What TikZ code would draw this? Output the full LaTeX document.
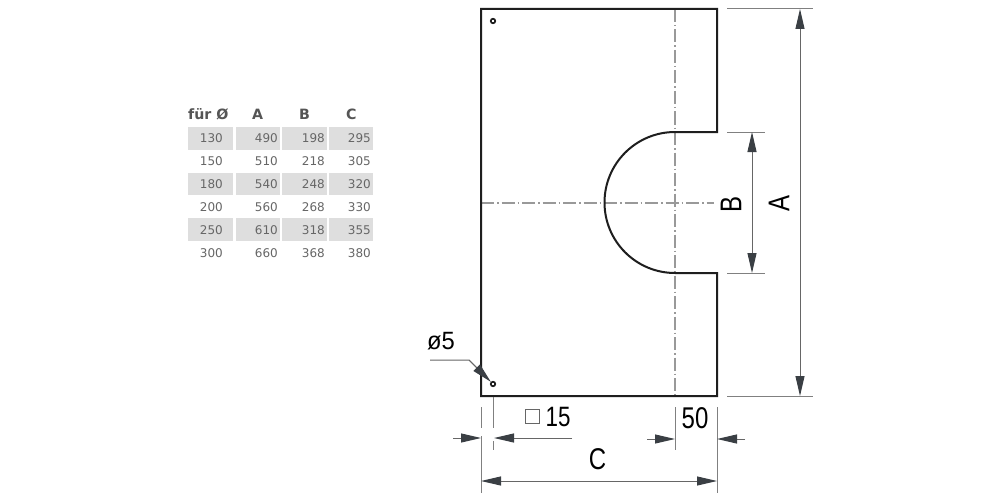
\documentclass[tikz,border=0pt]{standalone}
\usepackage{fontspec}
\setmainfont{Liberation Sans}
\newfontfamily\tablefont{DejaVu Sans}
\usetikzlibrary{arrows.meta}
\definecolor{celltone}{HTML}{DEDEDE}
\definecolor{celltext}{HTML}{666666}
\definecolor{headtext}{HTML}{555555}
\definecolor{tipcol}{HTML}{3A3F44}
\definecolor{dimcol}{HTML}{666666}
\definecolor{extcol}{HTML}{808080}
\definecolor{axiscol}{HTML}{999999}
\definecolor{plate}{HTML}{1E1E1E}
\tikzset{
  cell/.style={fill=celltone,draw=none},
  num/.style={font=\tablefont\fontsize{12}{12}\selectfont,text=celltext,inner sep=0pt,anchor=base east},
  head/.style={font=\tablefont\bfseries\fontsize{14.2}{15}\selectfont,text=headtext,inner sep=0pt,anchor=base west},
  outline/.style={draw=plate,line width=2pt,line join=miter},
  hole/.style={draw=plate,line width=1.7pt,fill=white,circle,minimum size=4.5pt,inner sep=0pt},
  axisline/.style={draw=axiscol,line width=1.1pt,dash pattern=on 13pt off 3pt on 1.5pt off 3pt},
  extline/.style={draw=extcol,line width=1pt},
  dimline/.style={draw=dimcol,line width=1pt},
  tip/.style={-{Triangle[length=20pt,width=9pt,color=tipcol]}},
  tips/.style={{Triangle[length=20pt,width=9pt,color=tipcol]}-{Triangle[length=20pt,width=9pt,color=tipcol]}},
  dimtext/.style={font=\fontsize{#1}{#1}\selectfont,text=black,inner sep=0pt,xscale=.8},
}
\begin{document}
\begin{tikzpicture}[x=1pt,y=-1pt]
\useasboundingbox (0,0) rectangle (1000,500);
\fill[white] (0,0) rectangle (1000,500);

% table
\foreach \ya/\yb in {127/150,173/195,218/241}{
  \foreach \xa/\xb in {188/233,236/280,282/327,329/373}{
    \path[cell] (\xa,\ya) rectangle (\xb,\yb);
  }
}
\node[head] (hd0) at (188,120) {für Ø};
\node[head] (hd1) at (252,120) {A};
\node[head] (hd2) at (299,120) {B};
\node[head] (hd3) at (346,120) {C};
\foreach \yy/\a/\b/\c/\d in {142.5/130/490/198/295,165.5/150/510/218/305,188.5/180/540/248/320,211.5/200/560/268/330,234/250/610/318/355,257/300/660/368/380}{
  \node[num] at (223,\yy) {\a};
  \node[num] at (278,\yy) {\b};
  \node[num] at (325,\yy) {\c};
  \node[num] at (371,\yy) {\d};
}

% named points
\coordinate (tl) at (481,9);
\coordinate (tr) at (717,9);
\coordinate (br) at (717,396);
\coordinate (bl) at (481,396);
\coordinate (nt) at (717,132);
\coordinate (nb) at (717,273);
\coordinate (at) at (675,132);
\coordinate (ab) at (675,273);

% axes
\draw[axisline] (675,9) -- (675,396);
\draw[axisline] (481,203) -- (714,203);

% plate
\draw[outline] (tl) -- (tr) -- (nt) -- (at) arc[start angle=90,end angle=270,radius=70.5pt] -- (nb) -- (br) -- (bl) -- cycle;

% extension lines
\draw[extline] (727,9) -- (813,9);
\draw[extline] (727,396) -- (813,396);
\draw[extline] (727,132) -- (765,132);
\draw[extline] (727,273) -- (765,273);
\draw[extline] (675,407) -- (675,450);
\draw[extline] (717,407) -- (717,493);
\draw[extline] (481,407) -- (481,428);
\draw[extline] (481,436) -- (481,493);
\draw[extline] (493,397) -- (493,428);
\draw[extline] (493,441) -- (493,450);

% dimension lines
\coordinate (aT) at (800,9);
\coordinate (aB) at (800,396);
\coordinate (bT) at (752,132);
\coordinate (bB) at (752,273);
\coordinate (cL) at (481,481);
\coordinate (cR) at (717,481);
\draw[dimline,tips] (aT) -- (aB);
\draw[dimline,tips] (bT) -- (bB);
\draw[dimline,tips] (cL) -- (cR);
\draw[dimline,tip] (647,439) -- (675,439);
\draw[dimline,tip] (745,439) -- (717,439);
\draw[dimline,tip] (453,438) -- (481,438);
\draw[dimline,tip] (572,438) -- (494,438);

% holes and leader
\node[hole] (h1) at (493,21) {};
\node[hole] (h2) at (493,384) {};
\coordinate (lead0) at (430,360);
\coordinate (lead1) at (469,360);
\draw[dimline] (lead0) -- (lead1) -- (477,368);
\draw[dimline,tip] (lead1) -- (h2);

% dimension texts
\node[rotate=90,dimtext=30] (lblA) at (779,203.5) {A};
\node[rotate=90,dimtext=30] (lblB) at (731,204) {B};
\node[dimtext=30] (lblC) at (597.5,459.5) {C};
\node[dimtext=30] (lbl50) at (695,418) {50};
\node[dimtext=28] (lbl15) at (558,417) {15};
\node[font=\fontsize{25}{25}\selectfont,inner sep=0pt,xscale=.95] (lblD) at (441,341) {ø5};
\draw[draw=dimcol,line width=.8pt] (525,409) rectangle (539,423);
\end{tikzpicture}
\end{document}
